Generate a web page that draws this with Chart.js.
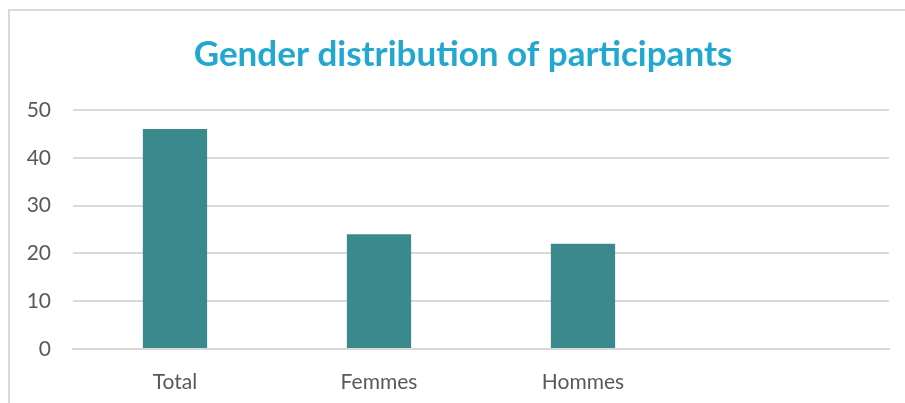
<!DOCTYPE html>
<html>
<head>
<meta charset="utf-8">
<script src="https://cdn.jsdelivr.net/npm/chart.js@4"></script>
<style>
  html, body { margin: 0; padding: 0; background: #fff; overflow: hidden; }
  #frame { position: absolute; left: 8px; top: 9px; width: 1000px; height: 500px; border: 2px solid #d9d9d9; }
  #wrap { position: absolute; left: 0; top: 0; width: 926px; height: 403px; }
</style>
</head>
<body>
<div id="frame"></div>
<div id="wrap"><canvas id="c" width="926" height="403"></canvas></div>
<script>
const titleText = "Gender distribution of participants";
const categories = ["Total", "Femmes", "Hommes", ""];
const participants = [46, 24, 22, null];
const yTicks = [0, 10, 20, 30, 40, 50];

new Chart(document.getElementById('c'), {
  type: 'bar',
  data: {
    labels: categories,
    datasets: [{
      label: 'Participants',
      data: participants,
      backgroundColor: '#3a898c',
      barPercentage: 0.63,
      categoryPercentage: 0.5
    }]
  },
  options: {
    responsive: false,
    animation: false,
    layout: { padding: { left: 0, right: 0, top: 0, bottom: 0 } },
    plugins: {
      legend: { display: false },
      tooltip: { enabled: false },
      title: {
        display: true,
        text: titleText,
        color: '#22a7d0',
        font: { family: 'Lato', size: 35, weight: 'bold' },
        padding: { top: 34, bottom: 34 }
      }
    },
    scales: {
      x: {
        afterFit: s => { s.height = 54; },
        grid: { display: false },
        border: { display: true, color: '#d9d9d9', width: 2 },
        ticks: { color: '#595959', font: { family: 'Lato', size: 21 }, padding: 13, maxRotation: 0 }
      },
      y: {
        min: 0, max: 50,
        afterFit: s => { s.width = 73; },
        afterBuildTicks: s => { s.ticks = yTicks.map(v => ({ value: v })); },
        grid: { color: '#d9d9d9', lineWidth: 2, drawTicks: false },
        border: { display: false },
        ticks: { color: '#595959', font: { family: 'Lato', size: 21 }, padding: 22 }
      },
      yRight: {
        position: 'right',
        min: 0, max: 50,
        afterFit: s => { s.width = 37; },
        grid: { display: false, drawTicks: false },
        border: { display: false },
        ticks: { display: false }
      }
    }
  }
});
</script>
</body>
</html>
